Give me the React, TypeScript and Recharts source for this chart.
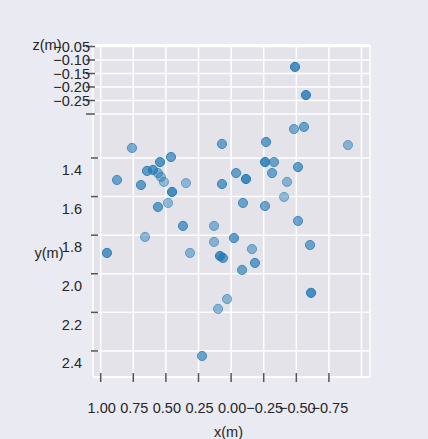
import React from "react";
import {
  ScatterChart,
  Scatter,
  XAxis,
  YAxis,
  CartesianGrid,
  Label,
} from "recharts";

const xs = [
  0.76, 0.461, 0.545, 0.645, 0.599, 0.561, 0.538, 0.515, 0.875, 0.691,
  0.453, 0.346, 0.484, 0.561, 0.369, 0.131, 0.131, 0.66, 0.952, 0.315,
  0.223, 0.07, 0.07, -0.26, -0.329, -0.513, -0.038, -0.114, -0.314, -0.429,
  -0.091, -0.26, -0.406, -0.513, -0.022, -0.16, 0.085, 0.062, -0.183, -0.084,
  -0.605, -0.613, 0.031, 0.1, -0.268, -0.482, -0.559, -0.896, -0.49, -0.574,
];
const ys = [
  1.348, 1.395, 1.421, 1.467, 1.462, 1.478, 1.498, 1.524, 1.514, 1.54,
  1.576, 1.53, 1.633, 1.654, 1.752, 1.752, 1.835, 1.809, 1.892, 1.892,
  2.426, 1.327, 1.535, 1.421, 1.421, 1.447, 1.478, 1.509, 1.478, 1.524,
  1.633, 1.649, 1.602, 1.726, 1.815, 1.872, 1.908, 1.918, 1.944, 1.98,
  1.851, 2.099, 2.131, 2.182, 1.317, 1.25, 1.239, 1.333, 0.928, 1.074,
];
// relative depth (drives the depth shading)
const depth = [
  0.5, 0.7, 0.8, 0.7, 0.75, 0.4, 0.3, 0.3, 0.6, 0.7,
  0.9, 0.3, 0.3, 0.7, 0.7, 0.4, 0.35, 0.35, 0.8, 0.35,
  0.6, 0.6, 0.7, 0.95, 0.6, 0.7, 0.65, 0.95, 0.6, 0.35,
  0.6, 0.6, 0.3, 0.6, 0.7, 0.4, 0.9, 0.7, 0.7, 0.6,
  0.6, 0.9, 0.35, 0.35, 0.7, 0.5, 0.6, 0.35, 0.9, 0.9,
];

const xTicks = [1.0, 0.75, 0.5, 0.25, 0, -0.25, -0.5, -0.75, -1.0];
const yTicks = [1.4, 1.6, 1.8, 2.0, 2.2, 2.4];
const zTicks = [-0.05, -0.1, -0.15, -0.2, -0.25, -0.3];
const zTickLabels = ["−0.05", "−0.10", "−0.15", "−0.20", "−0.25", ""];

const points = xs.map((x, i) => ({ x, y: ys[i], depth: depth[i] }));
// invisible anchors so the z axis has values of its own
const zAnchors = zTicks.map((z) => ({ x: 0, z }));

const TEXT = "#262626";
const FONT = 14.5;

const fmtX = (v: number) => {
  const s = Math.abs(v).toFixed(2);
  return v < 0 ? "−" + s : s;
};

const XTick = (props: any) => {
  const { x, y, payload } = props;
  if (payload.value < -0.9) return <g />;
  return (
    <g>
      <line x1={x} x2={x} y1={y - 4} y2={y + 5} stroke="#555" strokeWidth={1.5} />
      <text x={x + 1} y={y + 31} dy="0.355em" textAnchor="middle" fontSize={FONT} fill={TEXT}>
        {fmtX(payload.value)}
      </text>
    </g>
  );
};

const YTick = (props: any) => {
  const { x, y, payload } = props;
  return (
    <g>
      <line x1={x - 2} x2={x + 5} y1={y} y2={y} stroke="#555" strokeWidth={1.5} />
      <text x={x - 11} y={y + 12} dy="0.355em" textAnchor="end" fontSize={FONT} fill={TEXT}>
        {payload.value.toFixed(1)}
      </text>
    </g>
  );
};

const ZTick = (props: any) => {
  const { x, y, payload } = props;
  const i = zTicks.indexOf(payload.value);
  return (
    <g>
      <line x1={x - 7} x2={x + 2} y1={y} y2={y} stroke="#555" strokeWidth={1.5} />
      <text x={x - 3} y={y} dy="0.355em" textAnchor="end" fontSize={FONT} fill={TEXT}>
        {zTickLabels[i] ?? ""}
      </text>
    </g>
  );
};

const Dot = (props: any) => {
  const { cx, cy, payload } = props;
  const a = 0.3 + 0.7 * payload.depth;
  return (
    <circle cx={cx} cy={cy} r={4.6} fill="#1f77b4" fillOpacity={a * 0.85} stroke="#1f77b4" strokeOpacity={a} strokeWidth={1} />
  );
};

export default function App() {
  return (
    <div style={{ position: "absolute", left: 0, top: 0, width: 428, height: 439, background: "#eaeaf2", fontFamily: "'Liberation Sans', Arial, sans-serif" }}>
      <ScatterChart width={428} height={439} margin={{ top: 45, right: 58, bottom: 12, left: 0 }}>
        <CartesianGrid yAxisId="y" fill="#e3e3e9" stroke="#ffffff" strokeWidth={1.5} />
        <CartesianGrid yAxisId="depth" vertical={false} fill="none" stroke="#ffffff" strokeWidth={1.5} />
        <XAxis
          dataKey="x"
          type="number"
          domain={[-1.065, 1.059]}
          reversed
          allowDataOverflow
          ticks={xTicks}
          interval={0}
          height={50}
          tickSize={0}
          tickMargin={0}
          axisLine={false}
          tickLine={false}
          tick={<XTick />}
        >
          <Label
            content={(p: any) => {
              const vb = p.viewBox;
              return (
                <text x={vb.x + vb.width / 2 - 3} y={vb.y + 55} dy="0.355em" textAnchor="middle" fontSize={FONT} fill={TEXT}>
                  x(m)
                </text>
              );
            }}
          />
        </XAxis>
        <YAxis
          yAxisId="y"
          dataKey="y"
          type="number"
          domain={[0.8145, 2.535]}
          reversed
          allowDataOverflow
          ticks={yTicks}
          interval={0}
          width={93}
          tickSize={0}
          tickMargin={0}
          axisLine={false}
          tickLine={false}
          tick={<YTick />}
        >
          <Label
            content={(p: any) => {
              const vb = p.viewBox;
              return (
                <text x={vb.x + vb.width - 44} y={vb.y + 208} dy="0.355em" textAnchor="middle" fontSize={FONT} fill={TEXT}>
                  y(m)
                </text>
              );
            }}
          />
        </YAxis>
        <YAxis
          yAxisId="depth"
          dataKey="z"
          type="number"
          domain={[-1.274, -0.0444]}
          allowDataOverflow
          ticks={zTicks}
          interval={0}
          mirror
          width={1}
          tickSize={0}
          tickMargin={0}
          axisLine={false}
          tickLine={false}
          tick={<ZTick />}
        >
          <Label
            content={(p: any) => {
              const vb = p.viewBox;
              return (
                <text x={vb.x - 46} y={vb.y} dy="0.355em" textAnchor="middle" fontSize={FONT} fill={TEXT}>
                  z(m)
                </text>
              );
            }}
          />
        </YAxis>
        <Scatter data={zAnchors} yAxisId="depth" shape={() => <g />} isAnimationActive={false} />
        <Scatter data={points} yAxisId="y" shape={<Dot />} isAnimationActive={false} />
      </ScatterChart>
    </div>
  );
}
